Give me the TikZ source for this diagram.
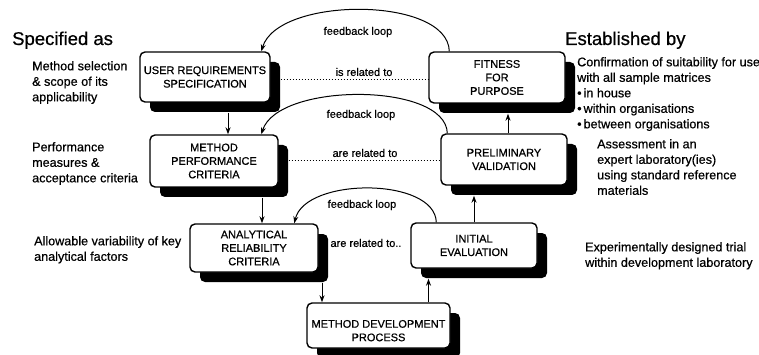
\documentclass[tikz,border=0pt]{standalone}
\usepackage{fontspec}
\setmainfont{Liberation Sans}[FakeBold=0.6]
\usetikzlibrary{shadows,arrows.meta,calc}
\begin{document}
\begin{tikzpicture}[x=1pt,y=-1pt,
  box/.style={draw, line width=1.4pt, rounded corners=5pt, fill=white, align=center, inner sep=1pt,
    font=\fontsize{11}{13.5}\selectfont,
    drop shadow={shadow xshift=10pt, shadow yshift=-10pt, opacity=1, fill=black}},
  side/.style={anchor=north west, align=left, inner sep=0pt, font=\fontsize{12.6}{15.5}\selectfont},
  head/.style={anchor=base west, inner sep=0pt, font=\fontsize{18.5}{22}\selectfont},
  lbl/.style={inner sep=0pt, font=\fontsize{11}{13}\selectfont},
  arr/.style={line width=1pt, -{Stealth[length=7pt,width=5pt]}},
  rel/.style={dotted, line width=1pt},
  fb/.style={line width=1pt, -{Stealth[length=7pt,width=5pt]}}
]
\useasboundingbox (0,0) rectangle (759,355);

% boxes
\node[box, minimum width=130pt, minimum height=50pt] (urs) at (205,77) {USER REQUIREMENTS\\SPECIFICATION};
\node[box, minimum width=128pt, minimum height=52pt] (mpc) at (214,161) {METHOD\\PERFORMANCE\\CRITERIA};
\node[box, minimum width=128pt, minimum height=48pt] (arc) at (254,248) {ANALYTICAL\\RELIABILITY\\CRITERIA};
\node[box, minimum width=143pt, minimum height=45pt] (mdp) at (378.5,325.5) {\rule{0pt}{18pt}METHOD DEVELOPMENT\\PROCESS};
\node[box, minimum width=136pt, minimum height=51pt] (ffp) at (497,77.5) {FITNESS\\FOR\\PURPOSE};
\node[box, minimum width=126pt, minimum height=51pt] (pv) at (504,159.5) {PRELIMINARY\\VALIDATION};
\node[box, minimum width=126pt, minimum height=45pt] (ie) at (474,245.5) {INITIAL\\EVALUATION};

% vertical arrows
\draw[arr] ([xshift=23pt,yshift=-10pt]urs.south) -- ([xshift=23pt]urs.south |- mpc.north);
\draw[arr] ([xshift=48pt,yshift=-10pt]mpc.south) -- ([xshift=48pt]mpc.south |- arc.north);
\draw[arr] ([xshift=68pt,yshift=-10pt]arc.south) -- ([xshift=68pt]arc.south |- mdp.north);
\draw[arr] ([xshift=50pt]mdp.north) -- ($([xshift=50pt]mdp.north |- ie.south)+(0,10)$);
\draw[arr] (ie.north) -- ($(ie.north |- pv.south)+(0,10)$);
\draw[arr] ([xshift=4pt]pv.north) -- ($([xshift=4pt]pv.north |- ffp.south)+(0,10)$);

% feedback loops
\draw[fb] ([xshift=21pt]ffp.north west) .. controls (448,-4) and (278,-4) .. ([xshift=122pt]urs.north west);
\draw[fb] ([xshift=7pt]pv.north west) .. controls (446,82) and (278,82) .. ([xshift=112pt]mpc.north west);
\draw[fb] ([xshift=26pt]ie.north west) .. controls (435,177) and (305,177) .. ([xshift=105pt]arc.north west);
\node[lbl] (fb1) at (358,32) {feedback loop};
\node[lbl] (fb2) at (361,115) {feedback loop};
\node[lbl] (fb3) at (362,205) {feedback loop};

% relations
\draw[rel] ([xshift=10pt,yshift=-3pt]urs.east) -- ([yshift=-3pt]urs.east -| ffp.west);
\draw[rel] ([xshift=10pt]mpc.east) -- (mpc.east -| pv.west);
\node[lbl] (r1) at (364,72) {is related to};
\node[lbl] (r2) at (365,153) {are related to};
\node[lbl] (r3) at (366,243) {are related to..};

% side texts
\node[head] (spec) at (12,45) {Specified as};
\node[head] (estb) at (565,45) {Established by};
\node[side] (t1) at (32,61) {Method selection\\ \& scope of its\\applicability};
\node[side] (t2) at (32,142) {Performance\\measures \&\\acceptance criteria};
\node[side] (t3) at (34,236) {Allowable variability of key\\analytical factors};
\node[side] (t4) at (577,57) {Confirmation of suitability for use\\with all sample matrices\\\textbullet\hspace{2pt}in house\\\textbullet\hspace{2pt}within organisations\\\textbullet\hspace{2pt}between organisations};
\node[side] (t5) at (597,139) {Assessment in an\\expert laboratory(ies)\\using standard reference\\materials};
\node[side] (t6) at (585,242) {Experimentally designed trial\\within development laboratory};
\end{tikzpicture}
\end{document}
